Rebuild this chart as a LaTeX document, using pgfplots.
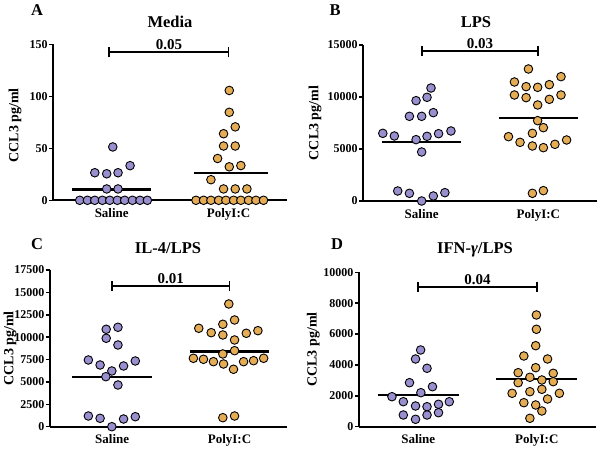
\documentclass[border=0pt]{standalone}
\usepackage{fontspec}
\setmainfont{Liberation Serif}
\usepackage{pgfplots}
\pgfplotsset{compat=1.18}
\definecolor{salc}{RGB}{152,143,206}
\definecolor{picc}{RGB}{228,172,84}
\newcommand{\fs}[1]{\fontsize{#1bp}{#1bp}\selectfont\bfseries}
\pgfkeys{/pgf/number format/.cd, 1000 sep={}, assume math mode=true}
\pgfplotsset{
  panel/.style={
    scale only axis, clip=false, anchor=south west,
    xmin=0.5, xmax=2.5, ymin=0,
    axis x line=bottom, axis y line=left,
    axis line style={-, line width=1.8bp},
    xtick={1,2}, xticklabels={Saline, PolyI:C},
    x tick style={draw=none},
    y tick style={line width=1.5bp, black},
    major tick length=4bp, tick align=outside, ytick pos=left,
    scaled y ticks=false,
    /pgf/number format/assume math mode=true,
    /pgf/number format/1000 sep={},
    yticklabel={\pgfmathprintnumber{\tick}},
    yticklabel style={font=\fs{12}, inner sep=1.5bp},
    xticklabel style={font=\fs{13}, inner sep=2bp, yshift=-2bp},
    every axis y label/.style={rotate=90, anchor=center, font=\fs{14}},
    ylabel={CCL3 pg/ml},
  },
  sal/.style={only marks, mark=*, mark size=4.3bp, mark options={fill=salc, draw=black, line width=0.9bp}},
  pic/.style={only marks, mark=*, mark size=4.3bp, mark options={fill=picc, draw=black, line width=0.9bp}},
  mline/.style={black, line width=2.3bp, no marks},
}
\newcommand{\bracket}[4]{% x1,x2,y,label
  \draw[line width=1.8bp] (axis cs:#1,#3) -- (axis cs:#2,#3);
  \draw[line width=1.8bp] ([yshift=-5bp]axis cs:#1,#3) -- ([yshift=5bp]axis cs:#1,#3);
  \draw[line width=1.8bp] ([yshift=-5bp]axis cs:#2,#3) -- ([yshift=5bp]axis cs:#2,#3);
  \node[above, inner sep=2bp, font=\fs{15}] at (axis cs:{(#1+#2)/2},#3) {#4};
}
\begin{document}
\begin{tikzpicture}[x=1bp,y=1bp]
\useasboundingbox (0,0) rectangle (600,449);
% Panel A
\begin{axis}[panel, at={(53.3bp,248.7bp)}, width=233.7bp, height=156bp,
  ymax=150, ytick={0,50,100,150},
  every axis y label/.append style={at={(axis description cs:-0.164,0.48)}}]
\addplot[mline] coordinates {(0.66,10.5) (1.34,10.5)};
\addplot[mline] coordinates {(1.70,26.2) (2.34,26.2)};
\addplot[sal] coordinates {(0.726,0) (0.792,0) (0.855,0) (0.920,0) (0.983,0) (1.048,0) (1.111,0) (1.177,0) (1.242,0) (1.305,0)
 (0.957,10.9) (1.054,10.9) (0.855,26.5) (0.957,25.5) (1.054,26.5) (1.157,33.3) (1.009,51.3)};
\addplot[pic] coordinates {(1.721,0) (1.786,0) (1.849,0) (1.915,0) (1.977,0) (2.043,0) (2.105,0) (2.171,0) (2.234,0) (2.299,0)
 (1.957,10.9) (2.057,10.9) (2.157,10.9) (1.849,19.8) (2.006,32.2) (2.105,33.4) (1.906,40.2) (1.957,52.2) (2.057,52.2)
 (1.957,64) (2.057,70.6) (2.006,84.6) (2.006,105.6)};
\bracket{0.98}{2.0}{142.3}{0.05}
\end{axis}
% Panel B
\begin{axis}[panel, at={(363.3bp,248bp)}, width=233.4bp, height=156bp,
  ymax=15000, ytick={0,5000,10000,15000},
  every axis y label/.append style={at={(axis description cs:-0.207,0.5)}}]
\addplot[mline] coordinates {(0.66,5640) (1.34,5640)};
\addplot[mline] coordinates {(1.66,7980) (2.34,7980)};
\addplot[sal] coordinates {(1.08,10865) (0.952,9647) (1.046,9968) (0.895,8141) (1.0,8141) (1.1,8494) (0.667,6506) (0.766,6250) (0.952,5897) (1.046,6218) (1.145,6474) (1.251,6731) (1.0,4712) (0.795,962) (0.895,737) (1.0,0) (1.1,481) (1.199,801)};
\addplot[pic] coordinates {(1.915,12692) (1.795,11442) (1.895,10994) (1.994,10929) (2.094,11186) (2.194,11955) (1.795,10192) (1.895,9936) (1.994,9231) (2.094,9776) (2.194,10192) (1.994,7724) (2.043,7051) (1.949,6506) (1.744,6186) (1.843,5641) (1.949,5288) (2.043,5128) (2.142,5449) (2.242,5865) (1.949,737) (2.043,994)};
\bracket{1.0}{2.0}{14450}{0.03}
\end{axis}
% Panel C
\begin{axis}[panel, at={(50bp,22.3bp)}, width=237bp, height=156.7bp,
  xmin=0.47, xmax=2.49,
  ymax=17500, ytick={0,2500,5000,7500,10000,12500,15000,17500},
  every axis y label/.append style={at={(axis description cs:-0.169,0.5)}}]
\addplot[mline] coordinates {(0.66,5585) (1.34,5585)};
\addplot[mline] coordinates {(1.66,8390) (2.34,8390)};
\addplot[sal] coordinates {(0.949,10880) (1.049,11103) (0.949,9874) (1.049,9126) (0.797,7450) (0.897,6892) (0.997,6222) (0.946,5585) (1.097,6780) (1.197,7339) (1.049,4658) (0.797,1195) (0.897,938) (0.997,0) (1.097,860) (1.197,1117)};
\addplot[pic] coordinates {(1.994,13706) (2.043,11918) (1.943,11438) (1.738,10991) (1.844,10500) (1.943,10243) (2.043,9685) (2.143,10433) (2.242,10723) (1.943,8121) (2.043,8489) (1.692,7640) (1.778,7529) (1.863,7261) (1.949,7004) (2.034,6412) (2.120,7261) (2.205,7372) (2.291,7640) (1.943,1005) (2.043,1195)};
\bracket{1.0}{2.0}{15750}{0.01}
\end{axis}
% Panel D
\begin{axis}[panel, at={(359bp,22.3bp)}, width=237bp, height=154.4bp,
  ymax=10000, ytick={0,2000,4000,6000,8000,10000},
  every axis y label/.append style={at={(axis description cs:-0.193,0.5)}}]
\addplot[mline] coordinates {(0.66,2055) (1.34,2055)};
\addplot[mline] coordinates {(1.66,3100) (2.34,3100)};
\addplot[sal] coordinates {(1.020,4968) (0.977,4385) (1.074,3783) (0.926,2850) (1.120,2591) (0.778,1943) (1.022,2202) (0.874,1619) (0.977,1341) (1.074,1295) (1.171,1451) (1.262,1619) (0.874,758) (0.977,479) (1.074,758) (1.171,907)};
\addplot[pic] coordinates {(1.997,7235) (1.997,6309) (1.991,5246) (1.891,4579) (2.091,4385) (1.991,3821) (1.843,3498) (1.942,3200) (2.043,3025) (2.139,3459) (1.843,2850) (2.139,2915) (1.792,2163) (1.942,2267) (2.043,2422) (2.191,2163) (1.891,1554) (2.091,1794) (1.991,1406) (2.043,1017) (1.942,544)};
\bracket{1.0}{2.0}{9050}{0.04}
\end{axis}
% Titles and panel letters
\node[anchor=base, font=\fs{16.5}] at (37,433) {A};
\node[anchor=base, font=\fs{16.5}] at (335,433) {B};
\node[anchor=base, font=\fs{16.5}] at (37,199) {C};
\node[anchor=base, font=\fs{16.5}] at (337,199) {D};
\node[anchor=base, font=\fs{16.5}] at (170,421.7) {Media};
\node[anchor=base, font=\fs{16.5}] at (476,421.7) {LPS};
\node[anchor=base, font=\fs{16.5}] at (168,195.7) {IL-4/LPS};
\node[anchor=base, font=\fs{16.5}] at (475,195.7) {IFN-{\itshape γ}/LPS};
\end{tikzpicture}
\end{document}
